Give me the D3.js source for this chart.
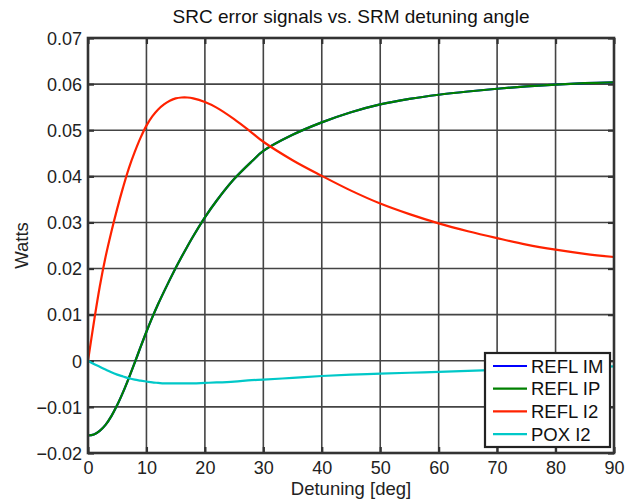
<!DOCTYPE html>
<html>
<head>
<meta charset="utf-8">
<script src="https://cdn.jsdelivr.net/npm/d3@7"></script>
<style>
  html, body { margin: 0; padding: 0; background: #fff; }
  svg { display: block; font-family: "Liberation Sans", Arial, Helvetica, sans-serif; }
</style>
</head>
<body>
<svg id="chart" width="625" height="499"></svg>
<script>
// Detuning angle samples (deg)
const detuning = [0, 1, 2, 3, 4, 5, 6, 7, 8, 9, 10, 11, 12, 13, 14, 15, 16, 17, 18, 20, 22, 25, 28, 30, 35, 40, 45, 50, 55, 60, 65, 70, 75, 80, 85, 90];

// Error signal amplitudes (W)
const reflIM = [-0.0162, -0.0160, -0.0152, -0.0139, -0.0120, -0.0096, -0.0068, -0.0037, -0.0004, 0.0030, 0.0063, 0.0094, 0.0123, 0.0150, 0.0176, 0.0201, 0.0225, 0.0248, 0.0270, 0.0311, 0.0347, 0.0394, 0.0432, 0.0455, 0.0490, 0.0517, 0.0539, 0.0556, 0.0568, 0.0577, 0.0584, 0.0590, 0.0595, 0.0599, 0.0602, 0.0604];
const reflIP = [-0.0162, -0.0160, -0.0152, -0.0139, -0.0120, -0.0096, -0.0068, -0.0037, -0.0004, 0.0030, 0.0063, 0.0094, 0.0123, 0.0150, 0.0176, 0.0201, 0.0225, 0.0248, 0.0270, 0.0311, 0.0347, 0.0394, 0.0432, 0.0455, 0.0490, 0.0517, 0.0539, 0.0556, 0.0568, 0.0577, 0.0584, 0.0590, 0.0595, 0.0599, 0.0602, 0.0604];
const reflI2 = [0, 0.0083, 0.0160, 0.0225, 0.0280, 0.0330, 0.0376, 0.0418, 0.0453, 0.0484, 0.0510, 0.0530, 0.0545, 0.0556, 0.0564, 0.0569, 0.0571, 0.0571, 0.0569, 0.0561, 0.0549, 0.0524, 0.0495, 0.0475, 0.0435, 0.0401, 0.0369, 0.0341, 0.0318, 0.0298, 0.0281, 0.0266, 0.0252, 0.0241, 0.0232, 0.0225];
const poxI2 = [0, -0.0007, -0.0013, -0.0019, -0.0025, -0.0030, -0.0034, -0.0038, -0.0041, -0.0043, -0.0045, -0.0047, -0.0048, -0.0049, -0.0049, -0.0049, -0.0049, -0.0049, -0.0049, -0.0048, -0.0047, -0.0045, -0.0042, -0.0041, -0.0037, -0.0033, -0.0030, -0.0028, -0.0026, -0.0024, -0.0022, -0.0020, -0.0018, -0.0016, -0.0014, -0.0012];

const seriesNames = ["REFL IM", "REFL IP", "REFL I2", "POX I2"];
const seriesColors = ["#0000ff", "#008000", "#ff2200", "#00c8c8"];
const seriesValues = [reflIM, reflIP, reflI2, poxI2];

const xTicks = [0, 10, 20, 30, 40, 50, 60, 70, 80, 90];
const yTicks = [-0.02, -0.01, 0, 0.01, 0.02, 0.03, 0.04, 0.05, 0.06, 0.07];
const yTickLabels = ["\u22120.02", "\u22120.01", "0", "0.01", "0.02", "0.03", "0.04", "0.05", "0.06", "0.07"];

const svg = d3.select("#chart");
const pLeft = 88, pRight = 614, pTop = 38, pBottom = 453;

const x = d3.scaleLinear().domain([0, 90]).range([pLeft, pRight]);
const y = d3.scaleLinear().domain([-0.02, 0.07]).range([pBottom, pTop]);

// grid
const grid = svg.append("g").attr("stroke", "#444").attr("stroke-width", 1.6);
grid.selectAll("line.gx").data(xTicks.slice(1, -1)).join("line")
  .attr("x1", d => x(d)).attr("x2", d => x(d)).attr("y1", pTop).attr("y2", pBottom);
grid.selectAll("line.gy").data(yTicks.slice(1, -1)).join("line")
  .attr("x1", pLeft).attr("x2", pRight).attr("y1", d => y(d)).attr("y2", d => y(d));

// axes with inward ticks
const tickFont = 18;
const xAxis = svg.append("g").attr("transform", `translate(0,${pBottom})`)
  .call(d3.axisBottom(x).tickValues(xTicks).tickSizeInner(-6).tickSizeOuter(0));
const yAxis = svg.append("g").attr("transform", `translate(${pLeft},0)`)
  .call(d3.axisLeft(y).tickValues(yTicks).tickFormat((d, i) => yTickLabels[i]).tickSizeInner(-6).tickSizeOuter(0).tickPadding(6));
const xAxisTop = svg.append("g").attr("transform", `translate(0,${pTop})`)
  .call(d3.axisTop(x).tickValues(xTicks).tickSizeInner(-6).tickSizeOuter(0).tickFormat(""));
const yAxisRight = svg.append("g").attr("transform", `translate(${pRight},0)`)
  .call(d3.axisRight(y).tickValues(yTicks).tickSizeInner(-6).tickSizeOuter(0).tickFormat(""));
[xAxis, yAxis, xAxisTop, yAxisRight].forEach(a => {
  a.select(".domain").remove();
  a.selectAll(".tick line").attr("stroke", "#333").attr("stroke-width", 2.2);
  a.selectAll(".tick text").attr("fill", "#222").style("font-size", tickFont + "px").style("font-family", "'Liberation Sans', Arial, sans-serif");
});
xAxis.selectAll(".tick text").attr("dy", "0").attr("y", 21);
yAxis.selectAll(".tick text").attr("x", -6).attr("dy", "0.35em");

// series lines
const line = d3.line().x((d, i) => x(detuning[i])).y(d => y(d)).curve(d3.curveCatmullRom.alpha(0.5));
const plot = svg.append("g");
seriesValues.forEach((vals, k) => {
  plot.append("path").datum(vals)
    .attr("fill", "none").attr("stroke", seriesColors[k]).attr("stroke-width", 2.2)
    .attr("d", line);
});

// axes box
svg.append("rect").attr("x", pLeft).attr("y", pTop).attr("width", pRight - pLeft).attr("height", pBottom - pTop)
  .attr("fill", "none").attr("stroke", "#333").attr("stroke-width", 2.6);

// title and labels
svg.append("text").attr("x", (pLeft + pRight) / 2).attr("y", 23).attr("text-anchor", "middle")
  .attr("fill", "#111").style("font-size", "19px").text("SRC error signals vs. SRM detuning angle");
svg.append("text").attr("x", (pLeft + pRight) / 2).attr("y", 495).attr("text-anchor", "middle")
  .attr("fill", "#222").style("font-size", "18.5px").text("Detuning [deg]");
svg.append("text").attr("transform", `translate(28,${(pTop + pBottom) / 2}) rotate(-90)`).attr("text-anchor", "middle")
  .attr("fill", "#222").style("font-size", "18.5px").text("Watts");

// legend
const lg = svg.append("g").attr("transform", "translate(485,353)");
lg.append("rect").attr("width", 125).attr("height", 94).attr("fill", "#fff").attr("stroke", "#222").attr("stroke-width", 2.2);
seriesNames.forEach((name, k) => {
  const yy = 13 + k * 22.7;
  lg.append("line").attr("x1", 8).attr("x2", 42).attr("y1", yy).attr("y2", yy)
    .attr("stroke", seriesColors[k]).attr("stroke-width", 2.2);
  lg.append("text").attr("x", 46).attr("y", yy).attr("dy", "0.36em").attr("fill", "#111")
    .style("font-size", "18.5px").text(name);
});
</script>
</body>
</html>
